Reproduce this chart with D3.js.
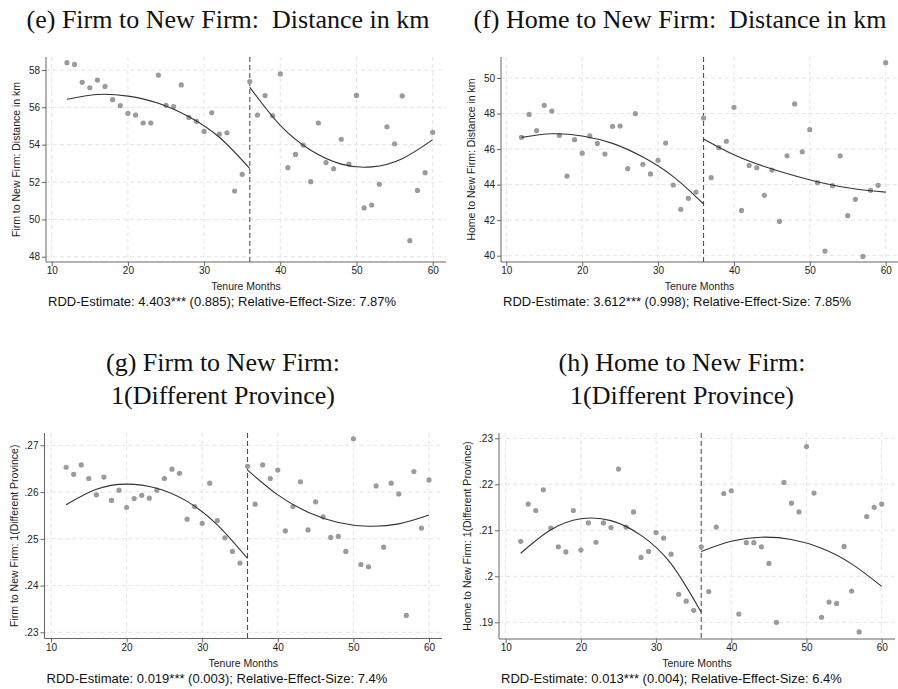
<!DOCTYPE html>
<html>
<head>
<meta charset="utf-8">
<script src="https://cdn.jsdelivr.net/npm/d3@7"></script>
<style>
  body { margin: 0; background: #fff; }
  svg { display: block; }
</style>
</head>
<body>
<svg id="chart" width="898" height="689"></svg>
<script>
// tenure months of the binned means
let months = [12, 13, 14, 15, 16, 17, 18, 19, 20, 21, 22, 23, 24, 25, 26, 27, 28, 29, 30, 31, 32, 33, 34, 35, 36,
              37, 38, 39, 40, 41, 42, 43, 44, 45, 46, 47, 48, 49, 50, 51, 52, 53, 54, 55, 56, 57, 58, 59, 60];

let firmDist = [58.39, 58.30, 57.34, 57.05, 57.46, 57.12, 56.41, 56.09, 55.68, 55.59, 55.16, 55.16, 57.73, 56.11, 56.04,
                57.20, 55.46, 55.25, 54.71, 55.71, 54.57, 54.64, 51.52, 52.41, 57.38, 55.59, 56.63, 55.55, 57.79, 52.77,
                53.48, 53.98, 52.02, 55.16, 53.04, 52.71, 54.29, 52.96, 56.64, 50.61, 50.77, 51.88, 54.96, 54.05, 56.61,
                48.86, 51.55, 52.50, 54.66];
let homeDist = [46.66, 47.95, 47.04, 48.46, 48.14, 46.77, 44.48, 46.53, 45.77, 46.74, 46.32, 45.72, 47.28, 47.30, 44.90,
                47.99, 45.14, 44.60, 45.37, 46.34, 43.98, 42.61, 43.23, 43.58, 47.75, 44.39, 46.08, 46.44, 48.35, 42.55,
                45.08, 44.95, 43.40, 44.82, 41.93, 45.62, 48.54, 45.85, 47.09, 44.11, 40.26, 43.94, 45.62, 42.25, 43.17,
                39.96, 43.68, 43.96, 50.86];
let firmProv = [.2653, .2638, .2658, .2629, .2594, .2632, .2582, .2604, .2567, .2586, .2593, .2587, .2604, .2629, .2649,
                .2640, .2542, .2569, .2533, .2619, .2539, .2502, .2473, .2448, .2655, .2574, .2658, .2629, .2647, .2517,
                .2569, .2622, .2519, .2579, .2547, .2503, .2505, .2473, .2714, .2445, .2440, .2613, .2482, .2619, .2596,
                .2336, .2644, .2523, .2626];
let homeProv = [.2076, .2157, .2143, .2188, .2105, .2064, .2053, .2143, .2057, .2116, .2074, .2116, .2106, .2233, .2107,
                .2140, .2041, .2054, .2095, .2083, .2048, .1961, .1946, .1926, .2064, .1967, .2107, .2180, .2186, .1918,
                .2073, .2073, .2064, .2028, .1900, .2204, .2159, .2140, .2282, .2181, .1911, .1944, .1941, .2065, .1968,
                .1879, .2130, .2150, .2157];

// fitted polynomial, read at a few months on each side of the cutoff
let fitLeft = [12, 16, 20, 24, 28, 32, 36];
let fitRight = [36, 40, 44, 48, 52, 56, 60];
let firmDistFitL = [56.43, 56.69, 56.60, 56.22, 55.50, 54.40, 52.72];
let firmDistFitR = [57.07, 55.03, 53.70, 52.96, 52.81, 53.25, 54.27];
let homeDistFitL = [46.66, 46.86, 46.74, 46.32, 45.55, 44.45, 42.91];
let homeDistFitR = [46.57, 45.68, 45.02, 44.50, 44.06, 43.75, 43.58];
let firmProvFitL = [.2573, .2606, .2617, .2608, .2580, .2530, .2458];
let firmProvFitR = [.2647, .2594, .2557, .2535, .2527, .2532, .2551];
let homeProvFitL = [.2050, .2101, .2125, .2121, .2089, .2027, .1922];
let homeProvFitR = [.2054, .2076, .2085, .2080, .2061, .2027, .1978];

let cutoff = 36;
let xTicks = [10, 20, 30, 40, 50, 60];
let distFirmTicks = [48, 50, 52, 54, 56, 58];
let distHomeTicks = [40, 42, 44, 46, 48, 50];
let provFirmTicks = [.23, .24, .25, .26, .27];
let provHomeTicks = [.19, .2, .21, .22, .23];

let titles = [
    ['(e) Firm to New Firm:  Distance in km'],
    ['(f) Home to New Firm:  Distance in km'],
    ['(g) Firm to New Firm:', '1(Different Province)'],
    ['(h) Home to New Firm:', '1(Different Province)']
];
let yLabels = ['Firm to New Firm: Distance in km', 'Home to New Firm: Distance in km',
               'Firm to New Firm: 1(Different Province)', 'Home to New Firm: 1(Different Province)'];
let notes = ['RDD-Estimate: 4.403*** (0.885); Relative-Effect-Size: 7.87%',
             'RDD-Estimate: 3.612*** (0.998); Relative-Effect-Size: 7.85%',
             'RDD-Estimate: 0.019*** (0.003); Relative-Effect-Size: 7.4%',
             'RDD-Estimate: 0.013*** (0.004); Relative-Effect-Size: 6.4%'];

// panel geometry in page pixels
let provFmt = d => d3.format('.2f')(d).replace(/^0/, '').replace(/0$/, '');
let panels = [
    { vals: firmDist, fitL: firmDistFitL, fitR: firmDistFitR, ticks: distFirmTicks, fmt: d => d,
      left: 46, right: 446, top: 57, bottom: 262, x0: 51.7, x1: 432.7, yDom: [48, 58], yRange: [256.7, 70],
      yLab: 16.5, titleX: 228, titleY: 27.5 },
    { vals: homeDist, fitL: homeDistFitL, fitR: homeDistFitR, ticks: distHomeTicks, fmt: d => d,
      left: 501, right: 898, top: 57, bottom: 262, x0: 506.3, x1: 885.7, yDom: [40, 50], yRange: [255.7, 78],
      yLab: 471.5, titleX: 680, titleY: 27.5 },
    { vals: firmProv, fitL: firmProvFitL, fitR: firmProvFitR, ticks: provFirmTicks, fmt: provFmt,
      left: 44.5, right: 442, top: 433, bottom: 638.5, x0: 51, x1: 429, yDom: [.23, .27], yRange: [632.3, 445.3],
      yLab: 14, titleX: 223, titleY: 371 },
    { vals: homeProv, fitL: homeProvFitL, fitR: homeProvFitR, ticks: provHomeTicks, fmt: provFmt,
      left: 499, right: 895, top: 433, bottom: 639, x0: 505.7, x1: 881.7, yDom: [.19, .23], yRange: [622.3, 438.3],
      yLab: 467.5, titleX: 682, titleY: 371 }
];

let svg = d3.select('#chart');
let sans = 'Liberation Sans, Arial, sans-serif';
let serif = 'Liberation Serif, Times New Roman, serif';

panels.forEach((p, i) => {
    let x = d3.scaleLinear().domain([10, 60]).range([p.x0, p.x1]);
    let y = d3.scaleLinear().domain(p.yDom).range(p.yRange);
    let g = svg.append('g');

    // title
    let title = g.append('text')
        .attr('x', p.titleX)
        .attr('y', p.titleY)
        .attr('text-anchor', 'middle')
        .style('font-family', serif)
        .style('font-size', '26px')
        .style('white-space', 'pre')
        .attr('fill', '#111');
    titles[i].forEach((line, k) => {
        title.append('tspan').attr('x', p.titleX).attr('dy', k === 0 ? 0 : 32.5).text(line);
    });

    // dashed grid
    g.append('g').selectAll('line')
        .data(p.ticks)
        .enter()
        .append('line')
        .attr('x1', p.left).attr('x2', p.right)
        .attr('y1', d => y(d)).attr('y2', d => y(d))
        .attr('stroke', '#e4e4e4')
        .attr('stroke-dasharray', '4,3');
    g.append('g').selectAll('line')
        .data(xTicks)
        .enter()
        .append('line')
        .attr('x1', d => x(d)).attr('x2', d => x(d))
        .attr('y1', p.top).attr('y2', p.bottom)
        .attr('stroke', '#e4e4e4')
        .attr('stroke-dasharray', '4,3');

    // axes
    let yAxis = g.append('g')
        .attr('transform', `translate(${p.left},0)`)
        .call(d3.axisLeft(y).tickValues(p.ticks).tickFormat(p.fmt).tickSize(4).tickSizeOuter(0));
    yAxis.select('.domain').attr('d', `M0,${p.top}V${p.bottom}`);
    let xAxis = g.append('g')
        .attr('transform', `translate(0,${p.bottom})`)
        .call(d3.axisBottom(x).tickValues(xTicks).tickSize(4).tickSizeOuter(0));
    xAxis.select('.domain').attr('d', `M${p.left},0H${p.right}`);
    [xAxis, yAxis].forEach(a => {
        a.select('.domain').attr('stroke', '#666');
        a.selectAll('.tick line').attr('stroke', '#666');
        a.selectAll('.tick text')
            .attr('fill', '#222')
            .style('font-family', sans)
            .style('font-size', '10px');
    });
    yAxis.selectAll('.tick text').attr('x', -6);
    xAxis.selectAll('.tick text').attr('y', 5);

    // cutoff
    g.append('line')
        .attr('x1', x(cutoff)).attr('x2', x(cutoff))
        .attr('y1', p.top).attr('y2', p.bottom)
        .attr('stroke', '#444')
        .attr('stroke-width', 1)
        .attr('stroke-dasharray', '5,3');

    // binned means
    g.append('g').selectAll('circle')
        .data(months.map((m, k) => [m, p.vals[k]]))
        .enter()
        .append('circle')
        .attr('cx', d => x(d[0]))
        .attr('cy', d => y(d[1]))
        .attr('r', 2.6)
        .attr('fill', '#9b9b9b');

    // fitted curves
    let line = d3.line().x(d => x(d[0])).y(d => y(d[1])).curve(d3.curveNatural);
    [[fitLeft, p.fitL], [fitRight, p.fitR]].forEach(([ms, vs]) => {
        g.append('path')
            .attr('d', line(ms.map((m, k) => [m, vs[k]])))
            .attr('fill', 'none')
            .attr('stroke', '#333')
            .attr('stroke-width', 1.1);
    });

    // axis titles
    g.append('text')
        .attr('x', (p.left + p.right) / 2)
        .attr('y', p.bottom + 28)
        .attr('text-anchor', 'middle')
        .style('font-family', sans)
        .style('font-size', '10.5px')
        .attr('fill', '#222')
        .text('Tenure Months');
    g.append('text')
        .attr('transform', `translate(${p.yLab},${(p.top + p.bottom) / 2}) rotate(-90)`)
        .attr('text-anchor', 'middle')
        .attr('dy', '0.35em')
        .style('font-family', sans)
        .style('font-size', '10.5px')
        .attr('fill', '#222')
        .text(yLabels[i]);

    // estimate note
    g.append('text')
        .attr('x', p.left + 2)
        .attr('y', p.bottom + 44)
        .style('font-family', sans)
        .style('font-size', '13px')
        .attr('fill', '#111')
        .text(notes[i]);
});
</script>
</body>
</html>
